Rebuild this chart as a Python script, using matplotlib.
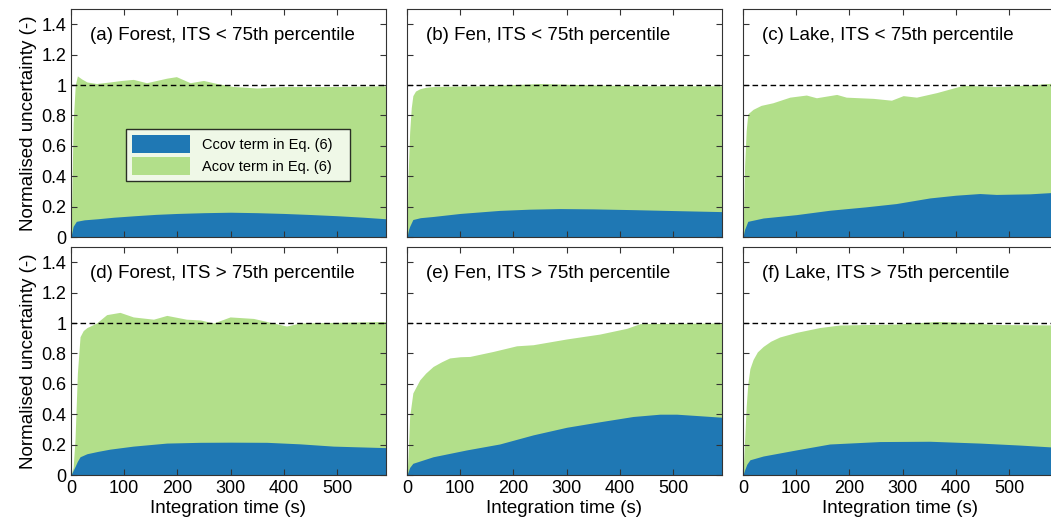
import matplotlib
matplotlib.use("Agg")
from matplotlib import pyplot as plt

plt.rcParams['font.family'] = ['Liberation Sans', 'DejaVu Sans']

# values: total (Acov + Ccov) and Ccov term, per panel
t_tot_a = [0, 4, 8, 12, 20, 30, 48, 73, 95, 117, 142, 161, 180, 198, 224, 249, 274, 305, 330, 349, 400, 500, 592]
tot_a = [0, 0.75, 1.0, 1.06, 1.04, 1.02, 1.01, 1.02, 1.03, 1.037, 1.015, 1.03, 1.045, 1.055, 1.015, 1.03, 1.01, 0.99, 0.985, 0.98, 0.99, 0.99, 0.995]
t_cc_a = [0, 4, 10, 25, 50, 80, 120, 160, 200, 250, 300, 350, 400, 450, 500, 550, 592]
cc_a = [0, 0.07, 0.103, 0.113, 0.12, 0.13, 0.14, 0.149, 0.155, 0.16, 0.163, 0.16, 0.155, 0.148, 0.14, 0.13, 0.12]

t_tot_b = [0, 2, 5, 8, 11, 16, 24, 35, 49, 100, 150, 250, 350, 450, 592]
tot_b = [0, 0.4, 0.69, 0.85, 0.93, 0.96, 0.975, 0.985, 0.99, 0.993, 0.995, 1.01, 1.0, 0.995, 0.995]
t_cc_b = [0, 3, 5, 11, 25, 49, 100, 174, 230, 287, 350, 425, 500, 592]
cc_b = [0, 0.05, 0.07, 0.115, 0.127, 0.135, 0.155, 0.175, 0.183, 0.187, 0.185, 0.18, 0.174, 0.167]

t_tot_c = [0, 3, 6, 9, 19, 34, 56, 88, 119, 138, 176, 194, 245, 279, 301, 326, 364, 390, 414, 476, 539, 592]
tot_c = [0, 0.47, 0.7, 0.81, 0.84, 0.866, 0.883, 0.92, 0.934, 0.916, 0.938, 0.92, 0.912, 0.9, 0.93, 0.92, 0.95, 0.975, 0.998, 0.99, 1.0, 1.015]
t_cc_c = [0, 3, 9, 38, 100, 163, 230, 288, 351, 400, 445, 476, 539, 592]
cc_c = [0, 0.05, 0.103, 0.125, 0.147, 0.176, 0.198, 0.22, 0.257, 0.275, 0.286, 0.28, 0.284, 0.295]

t_tot_d = [0, 4, 7.5, 12, 17, 23, 30, 48, 67, 92, 117, 155, 180, 217, 243, 268, 299, 343, 368, 405, 430, 592]
tot_d = [0, 0.05, 0.23, 0.67, 0.91, 0.95, 0.97, 1.0, 1.055, 1.07, 1.04, 1.025, 1.05, 1.025, 1.02, 1.0, 1.04, 1.03, 1.01, 0.98, 1.0, 1.01]
t_cc_d = [0, 4, 7.5, 12, 17, 30, 50, 73, 117, 180, 243, 300, 368, 430, 493, 592]
cc_d = [0, 0.03, 0.055, 0.09, 0.12, 0.14, 0.155, 0.17, 0.19, 0.21, 0.215, 0.216, 0.215, 0.205, 0.19, 0.18]

t_tot_e = [0, 2, 5, 11, 24, 35, 49, 65, 80, 100, 118, 162, 206, 237, 300, 362, 413, 438, 592]
tot_e = [0, 0.12, 0.385, 0.54, 0.626, 0.67, 0.714, 0.745, 0.77, 0.778, 0.78, 0.813, 0.85, 0.857, 0.895, 0.927, 0.965, 0.996, 1.0]
t_cc_e = [0, 2, 5, 11, 49, 112, 174, 237, 300, 362, 425, 475, 507, 550, 592]
cc_e = [0, 0.02, 0.05, 0.077, 0.12, 0.165, 0.204, 0.264, 0.314, 0.35, 0.385, 0.4, 0.4, 0.39, 0.38]

t_tot_f = [0, 3, 6, 9, 13, 19, 27, 38, 52, 69, 100, 144, 182, 288, 364, 414, 476, 592]
tot_f = [0, 0.23, 0.45, 0.6, 0.7, 0.76, 0.81, 0.846, 0.88, 0.908, 0.938, 0.97, 0.987, 0.993, 1.01, 1.004, 0.99, 0.987]
t_cc_f = [0, 3, 7, 13, 38, 100, 163, 257, 351, 445, 520, 592]
cc_f = [0, 0.033, 0.07, 0.1, 0.125, 0.165, 0.204, 0.22, 0.222, 0.21, 0.197, 0.182]

titles = ['(a) Forest, ITS < 75th percentile', '(b) Fen, ITS < 75th percentile',
          '(c) Lake, ITS < 75th percentile', '(d) Forest, ITS > 75th percentile',
          '(e) Fen, ITS > 75th percentile', '(f) Lake, ITS > 75th percentile']

panels = [(t_tot_a, tot_a, t_cc_a, cc_a), (t_tot_b, tot_b, t_cc_b, cc_b),
          (t_tot_c, tot_c, t_cc_c, cc_c), (t_tot_d, tot_d, t_cc_d, cc_d),
          (t_tot_e, tot_e, t_cc_e, cc_e), (t_tot_f, tot_f, t_cc_f, cc_f)]

green = '#b2df8a'
blue = '#1f78b4'

fig = plt.figure(figsize=(10.51, 5.28), dpi=100)
lefts = [71, 407, 743]
tops = [9, 247]
w = 315 / 1051
h = 228 / 528

for i, (tt, tot, tc, cc) in enumerate(panels):
    row, col = divmod(i, 3)
    ax = fig.add_axes([lefts[col] / 1051, 1 - (tops[row] + 228) / 528, w, h])
    ax.fill_between(tt, 0, tot, color=green, lw=0, label='Acov term in Eq. (6)')
    ax.fill_between(tc, 0, cc, color=blue, lw=0, label='Ccov term in Eq. (6)')
    ax.axhline(1, color='k', ls='--', lw=1, dashes=(4, 2.5))
    ax.set_xlim(0, 592)
    ax.set_ylim(0, 1.5)
    ax.set_xticks([0, 100, 200, 300, 400, 500])
    ax.set_yticks([0, 0.2, 0.4, 0.6, 0.8, 1, 1.2, 1.4])
    ax.set_yticklabels(['0', '0.2', '0.4', '0.6', '0.8', '1', '1.2', '1.4'])
    ax.tick_params(direction='in', top=True, right=True, labelsize=13, length=4, color='#333333')
    for s in ax.spines.values():
        s.set_color('#333333')
    ax.text(0.06, 0.885, titles[i], transform=ax.transAxes, fontsize=13.5, va='center')
    if row == 0:
        ax.set_xticklabels([])
    else:
        ax.set_xlabel('Integration time (s)', fontsize=13.5, labelpad=2)
    if col > 0:
        ax.set_yticklabels([])
    else:
        ax.set_ylabel('Normalised uncertainty (-)', fontsize=13.5, labelpad=3)
    if i == 0:
        hs, ls = ax.get_legend_handles_labels()
        leg = ax.legend(hs[::-1], ls[::-1], loc='lower left', bbox_to_anchor=(0.175, 0.246, 0.71, 0.241),
                        mode='expand', fontsize=10.5, frameon=True, fancybox=False, edgecolor='k',
                        handlelength=4.0, handleheight=1.5, borderaxespad=0, labelspacing=0.3)
        leg.get_frame().set_linewidth(1)

fig.savefig('out.png', dpi=100)
